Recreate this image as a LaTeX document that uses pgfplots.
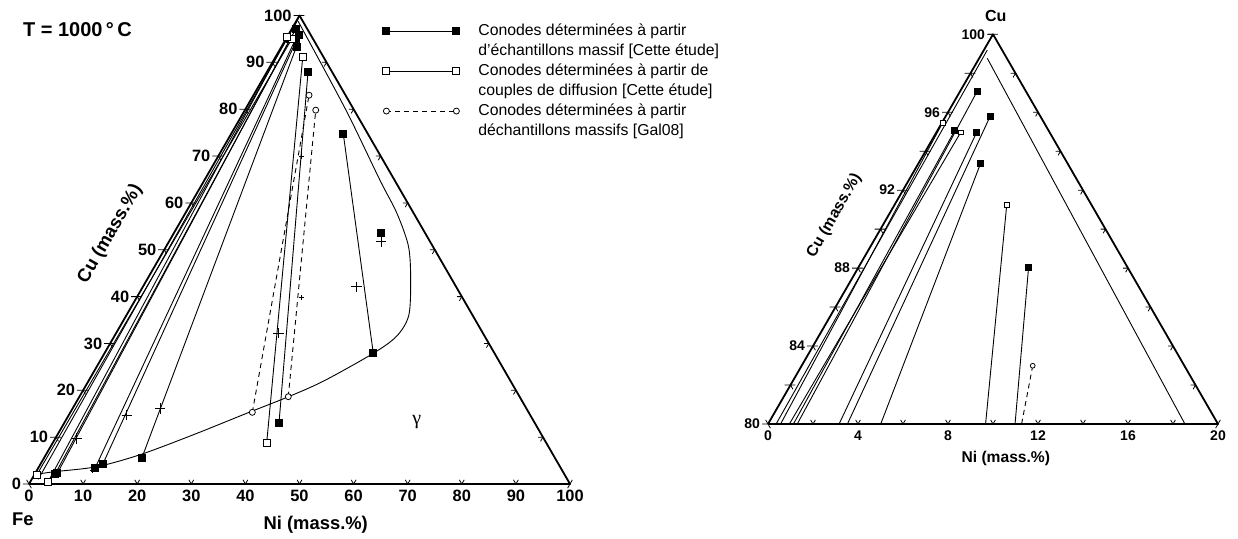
\documentclass[border=0pt]{standalone}
\usepackage{pgfplots}
\pgfplotsset{compat=1.18}
\usepackage{fontspec}
\setmainfont{Liberation Sans}
\newfontfamily\grfont{Liberation Serif}

% ternary (ni, cu) -> cartesian
\pgfplotsset{
  table/tern/.style={row sep=\\, x expr=\thisrow{ni}+0.5*\thisrow{cu}, y expr=0.8660254*\thisrow{cu}},
  tie/.style={black, line width=0.45pt, forget plot},
  bsq/.style={tie, mark=square*, mark size=1.75pt, mark options={solid, fill=black}},
  osq/.style={tie, mark=square*, mark size=1.75pt, mark options={solid, fill=white, line width=0.4pt}},
  ocirc/.style={tie, dash pattern=on 2.5pt off 2pt, mark=*, mark size=1.5pt, mark options={solid, fill=white, line width=0.4pt}},
  edge/.style={black, line width=0.9pt, line join=round, forget plot},
}
\tikzset{tk/.style={black, line width=0.4pt}}

\begin{document}
\begin{tikzpicture}
\path (0,0) rectangle (619pt,269pt);

% ---------------- full diagram
\begin{axis}[at={(14.5pt,27pt)}, anchor=south west,
  x=2.705pt, y=2.705pt, xmin=0, xmax=100, ymin=0, ymax=86.6025,
  hide axis, clip=false,
  legend image code/.code={\draw[#1] plot coordinates {(0pt,0pt) (35pt,0pt)}; \path[draw=none, fill=none] (0pt,0pt) -- (46pt,0pt);},
  legend cell align=left,
  legend style={at={(0.6534,0.9851)}, anchor=north west, draw=none, fill=none,
    inner sep=0pt, font=\fontsize{7.9}{9}\selectfont,
    nodes={inner sep=0pt, text height=6.2pt, text depth=2pt}, row sep=1.8pt},
]
\addplot[edge] table[tern]{ni cu\\ 0 0\\ 100 0\\ 0 100\\ 0 0\\};

\pgfplotsinvokeforeach{0,10,...,100}{
  \draw[tk] (axis cs:{#1/2},{0.8660254*#1}) -- ++(180:3pt)
            (axis cs:{#1/2},{0.8660254*#1}) -- ++(0:2.4pt)
            (axis cs:{#1/2},{0.8660254*#1}) -- ++(-60:2.4pt);
  \draw[tk] (axis cs:#1,0) -- ++(60:2.4pt) (axis cs:#1,0) -- ++(120:2.4pt);
  \draw[tk] (axis cs:{#1+(100-#1)/2},{0.8660254*(100-#1)}) -- ++(180:2.4pt)
            (axis cs:{#1+(100-#1)/2},{0.8660254*(100-#1)}) -- ++(240:2.4pt);
  \node[anchor=east, inner sep=0pt, xshift=-3.8pt, font=\fontsize{8.2}{9}\selectfont\bfseries]
    at (axis cs:{#1/2},{0.8660254*#1}) {#1};
  \node[anchor=north, inner sep=0pt, yshift=-3pt, font=\fontsize{8.2}{9}\selectfont\bfseries]
    at (axis cs:#1,0) {#1};
}

% phase boundary
\addplot[tie, smooth, tension=0.5] table[tern]{ni cu\\ 0 2.0\\ 3.2 2.6\\ 10.7 3.7\\ 17.5 6.3\\ 25.1 10.5\\ 32.7 15.1\\ 38.6 18.6\\ 43.5 22.0\\ 49.7 27.9\\ 52.2 31.6\\ 52.2 36.0\\ 48.8 43.5\\ 44.8 50.7\\ 39.1 57.8\\ 32.4 64.9\\ 18.5 80\\ 0.36 98.77\\};
\addplot[tie] table[tern]{ni cu\\ 1.2 1.0\\ 0.15 99.19\\};

% tie lines, bulk samples
\addplot[bsq] table[tern]{ni cu\\ 3.77 2.07\\ 0.76 97.09\\};
\addplot[bsq] table[tern]{ni cu\\ 4.09 2.28\\ 0.77 95.05\\};
\addplot[bsq] table[tern]{ni cu\\ 10.52 3.35\\ 1.79 94.97\\};
\addplot[bsq] table[tern]{ni cu\\ 11.52 4.20\\ 1.98 95.77\\};
\addplot[bsq] table[tern]{ni cu\\ 18.09 5.49\\ 2.76 93.38\\};
\addplot[bsq] table[tern]{ni cu\\ 39.67 13.09\\ 7.57 88.02\\};
\addplot[bsq] table[tern]{ni cu\\ 49.69 27.9\\ 20.75 74.7\\};
\addplot[bsq, only marks] table[tern]{ni cu\\ 38.31 53.5\\};
% diffusion couples
\addplot[osq] table[tern]{ni cu\\ 0.46 1.92\\ 1.08 94.97\\};
\addplot[osq] table[tern]{ni cu\\ 3.3 0.5\\ 0.03 95.46\\};
\addplot[osq] table[tern]{ni cu\\ 39.53 8.82\\ 4.99 91.24\\};
% Gal08
\addplot[ocirc] table[tern]{ni cu\\ 33.63 15.3\\ 10.27 82.99\\};
\addplot[ocirc] table[tern]{ni cu\\ 38.61 18.64\\ 13.1 79.8\\};

% alloy compositions
\addplot[tie, only marks, mark=+, mark size=2.6pt] table[tern]{ni cu\\ 3.94 9.75\\ 10.70 14.73\\ 16.14 16.15\\ 30.0 32.17\\ 39.5 42.1\\ 39.2 51.72\\};
\addplot[tie, only marks, mark=+, mark size=1.3pt] table[tern]{ni cu\\ 30.48 39.85\\ 15.4 70.0\\ 10.3 2.9\\};

\node[anchor=west, font=\fontsize{10}{12}\selectfont\bfseries, inner sep=0pt] at (axis cs:-1.16,84.05) {T = 1000\,°\,C};
\node[anchor=west, font=\fontsize{9.2}{11}\selectfont\bfseries, inner sep=0pt] at (axis cs:-3.2,-6.47) {Fe};
\node[font=\fontsize{9.2}{11}\selectfont\bfseries, inner sep=0pt] at (axis cs:53.0,-7.58) {Ni (mass.\%)};
\node[rotate=60, font=\fontsize{9.2}{11}\selectfont\bfseries, inner sep=0pt] at (axis cs:15.0,46.2) {Cu (mass.\%)};
\node[font=\fontsize{10}{12}\selectfont\grfont, inner sep=0pt] at (axis cs:71.7,11.46) {γ};

\addlegendimage{black, line width=0.45pt, mark=square*, mark size=1.75pt, mark options={fill=black}}
\addlegendentry{Conodes déterminées à partir}
\addlegendimage{empty legend}
\addlegendentry{d’échantillons massif [Cette étude]}
\addlegendimage{black, line width=0.45pt, mark=square*, mark size=1.75pt, mark options={fill=white, line width=0.4pt}}
\addlegendentry{Conodes déterminées à partir de}
\addlegendimage{empty legend}
\addlegendentry{couples de diffusion [Cette étude]}
\addlegendimage{black, line width=0.45pt, dash pattern=on 2.5pt off 2pt, mark=*, mark size=1.5pt, mark options={solid, fill=white, line width=0.4pt}}
\addlegendentry{Conodes déterminées à partir}
\addlegendimage{empty legend}
\addlegendentry{déchantillons massifs [Gal08]}
\end{axis}

% ---------------- Cu-rich corner
\begin{axis}[at={(384pt,57pt)}, anchor=south west,
  x=11.25pt, y=11.25pt, xmin=40, xmax=60, ymin=69.282, ymax=86.6025,
  hide axis, clip=false]
\addplot[edge] table[tern]{ni cu\\ 0 80\\ 20 80\\ 0 100\\ 0 80\\};

\pgfplotsinvokeforeach{0,2,...,20}{
  \draw[tk] (axis cs:{(100-#1)/2},{0.8660254*(100-#1)}) -- ++(180:3pt)
            (axis cs:{(100-#1)/2},{0.8660254*(100-#1)}) -- ++(0:2.4pt)
            (axis cs:{(100-#1)/2},{0.8660254*(100-#1)}) -- ++(-60:2.4pt);
  \draw[tk] (axis cs:{#1+40},69.282) -- ++(60:2.4pt) (axis cs:{#1+40},69.282) -- ++(120:2.4pt);
  \draw[tk] (axis cs:{#1+(100-#1)/2},{0.8660254*(100-#1)}) -- ++(180:2.4pt)
            (axis cs:{#1+(100-#1)/2},{0.8660254*(100-#1)}) -- ++(240:2.4pt);
}
\pgfplotsinvokeforeach{80,84,...,100}{
  \node[anchor=east, inner sep=0pt, xshift=-3.8pt, font=\fontsize{7}{8}\selectfont\bfseries]
    at (axis cs:{#1/2},{0.8660254*#1}) {#1};
}
\pgfplotsinvokeforeach{0,4,...,20}{
  \node[anchor=north, inner sep=0pt, yshift=-3pt, font=\fontsize{7}{8}\selectfont\bfseries]
    at (axis cs:{#1+40},69.282) {#1};
}

\addplot[tie] table[tern]{ni cu\\ 0.15 99.19\\ 0.36 80\\};
\addplot[tie] table[tern]{ni cu\\ 0.36 98.77\\ 18.53 80\\};
\addplot[bsq, mark size=1.5pt, mark repeat=2] table[tern]{ni cu\\ 0.76 97.09\\ 1.30 80\\};
\addplot[bsq, mark size=1.5pt, mark repeat=2] table[tern]{ni cu\\ 0.77 95.05\\ 1.13 80\\};
\addplot[bsq, mark size=1.5pt, mark repeat=2] table[tern]{ni cu\\ 1.79 94.97\\ 3.16 80\\};
\addplot[bsq, mark size=1.5pt, mark repeat=2] table[tern]{ni cu\\ 1.98 95.77\\ 3.53 80\\};
\addplot[bsq, mark size=1.5pt, mark repeat=2] table[tern]{ni cu\\ 2.76 93.38\\ 5.01 80\\};
\addplot[bsq, mark size=1.5pt, mark repeat=2] table[tern]{ni cu\\ 7.57 88.02\\ 10.98 80\\};
\addplot[osq, mark size=1.2pt, mark repeat=2] table[tern]{ni cu\\ 1.08 94.97\\ 0.95 80\\};
\addplot[osq, mark size=1.2pt, mark repeat=2] table[tern]{ni cu\\ 0.03 95.46\\ 0.56 80\\};
\addplot[osq, mark size=1.2pt, mark repeat=2] table[tern]{ni cu\\ 4.99 91.24\\ 9.67 80\\};
\addplot[ocirc, mark size=1.2pt, mark repeat=2] table[tern]{ni cu\\ 10.27 82.99\\ 11.27 80\\};

\node[font=\fontsize{8}{10}\selectfont\bfseries, inner sep=0pt] at (axis cs:50.12,87.42) {Cu};
\node[font=\fontsize{7.8}{10}\selectfont\bfseries, inner sep=0pt] at (axis cs:50.57,67.73) {Ni (mass.\%)};
\node[rotate=60, font=\fontsize{7.8}{10}\selectfont\bfseries, inner sep=0pt] at (axis cs:42.95,78.54) {Cu (mass.\%)};
\end{axis}
\end{tikzpicture}
\end{document}
